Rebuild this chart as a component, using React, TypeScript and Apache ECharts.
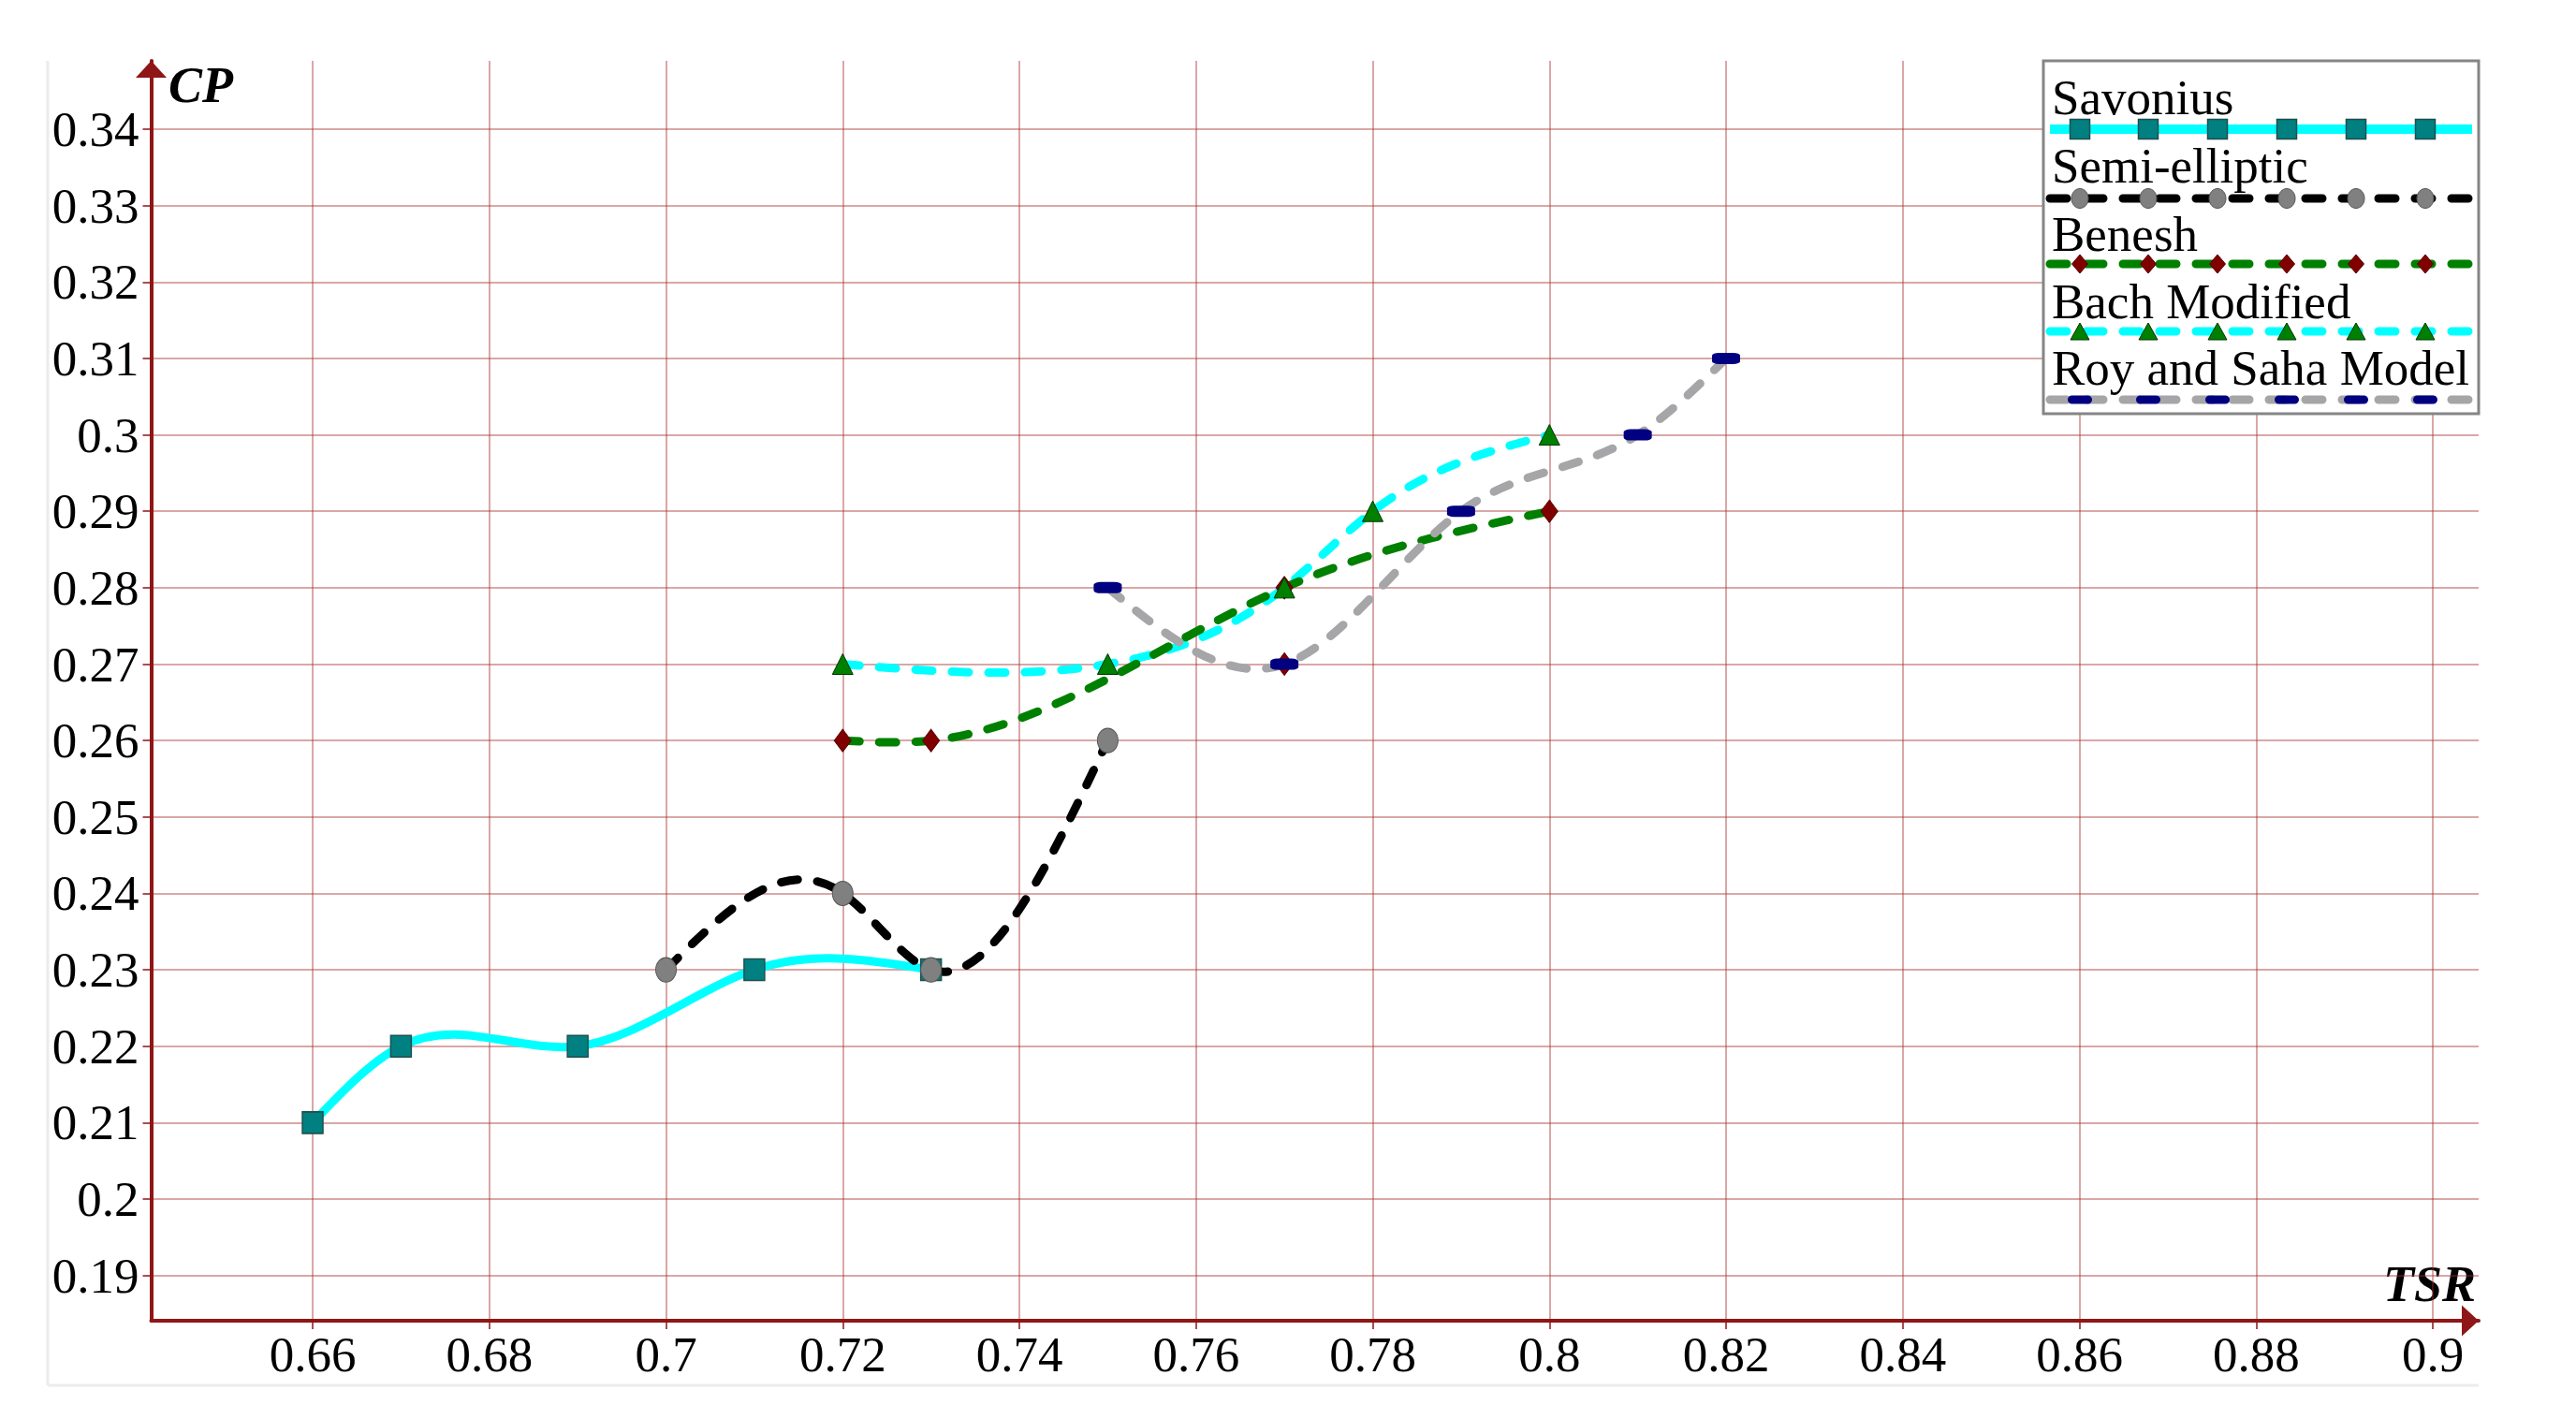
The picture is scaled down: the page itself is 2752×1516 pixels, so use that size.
import React, { useEffect, useRef } from "react";
import * as echarts from "echarts";

// ---- data ----
const xTicks = [0.66, 0.68, 0.7, 0.72, 0.74, 0.76, 0.78, 0.8, 0.82, 0.84, 0.86, 0.88, 0.9];
const yTicks = [0.19, 0.2, 0.21, 0.22, 0.23, 0.24, 0.25, 0.26, 0.27, 0.28, 0.29, 0.3, 0.31, 0.32, 0.33, 0.34];

const savoniusTSR = [0.66, 0.67, 0.69, 0.71, 0.73];
const savoniusCP = [0.21, 0.22, 0.22, 0.23, 0.23];

const semiTSR = [0.7, 0.72, 0.73, 0.75];
const semiCP = [0.23, 0.24, 0.23, 0.26];

const beneshTSR = [0.72, 0.73, 0.77, 0.8];
const beneshCP = [0.26, 0.26, 0.28, 0.29];
// a lone Benesh marker visible beneath the Roy and Saha marker at 0.77
const beneshExtraTSR = [0.77];
const beneshExtraCP = [0.27];

const bachTSR = [0.72, 0.75, 0.77, 0.78, 0.8];
const bachCP = [0.27, 0.27, 0.28, 0.29, 0.3];

const roySahaTSR = [0.75, 0.77, 0.79, 0.81, 0.82];
const roySahaCP = [0.28, 0.27, 0.29, 0.3, 0.31];

const legendNames = ["Savonius", "Semi-elliptic", "Benesh", "Bach Modified", "Roy and Saha Model"];

const X_MIN = 0.64172;
const X_MAX = 0.90519;
const Y_MIN = 0.18408;
const Y_MAX = 0.34894;

const FONT = '"Liberation Serif", "Times New Roman", serif';
const AXIS = "#8f1616";
const GRID = "rgba(165, 45, 45, 0.42)";
const TICK = "rgba(140, 20, 20, 0.75)";
const DASH = [18, 21];

const zip = (a: number[], b: number[]) => a.map((v, i) => [v, b[i]]);

// natural cubic spline through the data points, expressed as cubic Bezier segments in data space
function splineSegments(xs: number[], ys: number[]): number[][][] {
  const n = xs.length;
  const h: number[] = [];
  for (let i = 0; i < n - 1; i++) h.push(xs[i + 1] - xs[i]);
  const M = new Array(n).fill(0);
  if (n > 2) {
    const m = n - 2;
    const a: number[] = [], b: number[] = [], c: number[] = [], d: number[] = [];
    for (let i = 1; i <= m; i++) {
      a.push(h[i - 1]);
      b.push(2 * (h[i - 1] + h[i]));
      c.push(h[i]);
      d.push(6 * ((ys[i + 1] - ys[i]) / h[i] - (ys[i] - ys[i - 1]) / h[i - 1]));
    }
    for (let i = 1; i < m; i++) {
      const w = a[i] / b[i - 1];
      b[i] -= w * c[i - 1];
      d[i] -= w * d[i - 1];
    }
    const sol = new Array(m).fill(0);
    sol[m - 1] = d[m - 1] / b[m - 1];
    for (let i = m - 2; i >= 0; i--) sol[i] = (d[i] - c[i] * sol[i + 1]) / b[i];
    for (let i = 0; i < m; i++) M[i + 1] = sol[i];
  }
  const segs: number[][][] = [];
  for (let i = 0; i < n - 1; i++) {
    const hi = h[i];
    const sl = (ys[i + 1] - ys[i]) / hi;
    const s0 = sl - (hi * (2 * M[i] + M[i + 1])) / 6;
    const s1 = sl + (hi * (M[i] + 2 * M[i + 1])) / 6;
    segs.push([
      [xs[i], ys[i]],
      [xs[i] + hi / 3, ys[i] + (s0 * hi) / 3],
      [xs[i + 1] - hi / 3, ys[i + 1] - (s1 * hi) / 3],
      [xs[i + 1], ys[i + 1]],
    ]);
  }
  return segs;
}

function curveSeries(name: string, xs: number[], ys: number[], style: any): any {
  return {
    name,
    type: "custom",
    silent: true,
    coordinateSystem: "cartesian2d",
    data: zip(xs, ys),
    renderItem: (params: any, api: any) => {
      if (params.dataIndex !== 0) return null;
      const segs = splineSegments(xs, ys);
      let d = "";
      segs.forEach((s, k) => {
        const p = s.map((pt) => api.coord(pt));
        if (k === 0) d += `M${p[0][0]},${p[0][1]}`;
        d += ` C${p[1][0]},${p[1][1]} ${p[2][0]},${p[2][1]} ${p[3][0]},${p[3][1]}`;
      });
      return {
        type: "path",
        shape: { pathData: d },
        style: { fill: "none", ...style },
      };
    },
  };
}

function markerSeries(name: string, xs: number[], ys: number[], symbol: string, size: number[], itemStyle: any): any {
  return {
    name,
    type: "scatter",
    silent: true,
    data: zip(xs, ys),
    symbol,
    symbolSize: size,
    itemStyle: { opacity: 1, ...itemStyle },
  };
}

function buildLegend(): any[] {
  const els: any[] = [];
  const boxX = 2183, boxY = 65, boxW = 465, boxH = 377;
  els.push({
    type: "rect",
    shape: { x: boxX, y: boxY, width: boxW, height: boxH },
    style: { fill: "#fff", stroke: "#858585", lineWidth: 3 },
    z: 100,
  });
  const lineYs = [138, 212, 282, 354, 427];
  const textYs = [104, 177, 250, 322, 393];
  const markerXs = [2222, 2295, 2369, 2443, 2517, 2591];
  const lineStyles: any[] = [
    { stroke: "#00FFFF", lineWidth: 10, lineCap: "butt" },
    { stroke: "#000000", lineWidth: 9, lineDash: DASH, lineCap: "round" },
    { stroke: "#008000", lineWidth: 9, lineDash: DASH, lineCap: "round" },
    { stroke: "#00FFFF", lineWidth: 9, lineDash: DASH, lineCap: "round" },
    { stroke: "#a6a6a9", lineWidth: 9, lineDash: DASH, lineCap: "round" },
  ];
  legendNames.forEach((name, i) => {
    els.push({
      type: "text",
      x: 2192,
      y: textYs[i],
      z: 101,
      style: {
        text: name,
        font: `53px ${FONT}`,
        fill: "#000",
        textAlign: "left",
        textVerticalAlign: "middle",
        align: "left",
        verticalAlign: "middle",
      },
    });
    const ly = lineYs[i];
    els.push({
      type: "line",
      z: 101,
      shape: { x1: 2190, y1: ly, x2: 2641, y2: ly },
      style: lineStyles[i],
    });
    markerXs.forEach((cx) => {
      let m: any;
      if (i === 0) {
        m = { type: "rect", shape: { x: cx - 10.5, y: ly - 10.5, width: 21, height: 21 }, style: { fill: "#008080", stroke: "#1d4d4d", lineWidth: 1.5 } };
      } else if (i === 1) {
        m = { type: "ellipse", shape: { cx, cy: ly, rx: 9, ry: 10.5 }, style: { fill: "#808080", stroke: "#555", lineWidth: 1 } };
      } else if (i === 2) {
        m = { type: "polygon", shape: { points: [[cx, ly - 10], [cx + 8.5, ly], [cx, ly + 10], [cx - 8.5, ly]] }, style: { fill: "#800000", stroke: "#5a0000", lineWidth: 1 } };
      } else if (i === 3) {
        m = { type: "polygon", shape: { points: [[cx, ly - 9], [cx + 10, ly + 9], [cx - 10, ly + 9]] }, style: { fill: "#008000", stroke: "#003300", lineWidth: 1 } };
      } else {
        m = { type: "rect", shape: { x: cx - 13, y: ly - 4.5, width: 26, height: 9, r: 4.5 }, style: { fill: "#000080" } };
      }
      m.z = 102;
      els.push(m);
    });
  });
  return els;
}

export default function App() {
  const ref = useRef<HTMLDivElement>(null);
  useEffect(() => {
    if (!ref.current) return;
    const chart = echarts.init(ref.current, null, { renderer: "svg" });
    const labelStyle = { fontSize: 53, fontFamily: FONT, color: "#000" };
    const beneshMarker = { color: "#800000", borderColor: "#5a0000", borderWidth: 1 };
    const option: any = {
      animation: false,
      backgroundColor: "#fff",
      grid: { left: 161.5, right: 104, top: 65, bottom: 105, containLabel: false, outerBoundsMode: "none" },
      xAxis: {
        type: "value",
        min: X_MIN,
        max: X_MAX,
        axisLine: {
          show: true,
          onZero: false,
          lineStyle: { color: AXIS, width: 4 },
          symbol: ["none", "triangle"],
          symbolSize: [33, 18],
          symbolOffset: [0, -9],
        },
        axisTick: { show: true, customValues: xTicks, length: 9, lineStyle: { color: TICK, width: 2 } },
        axisLabel: { ...labelStyle, customValues: xTicks, margin: 9 },
        splitLine: { show: true, lineStyle: { color: GRID, width: 2 } },
      },
      yAxis: {
        type: "value",
        min: Y_MIN,
        max: Y_MAX,
        axisLine: {
          show: true,
          onZero: false,
          lineStyle: { color: AXIS, width: 4 },
          symbol: ["none", "triangle"],
          symbolSize: [33, 18],
          symbolOffset: [0, -9],
        },
        axisTick: { show: true, customValues: yTicks, length: 9, lineStyle: { color: TICK, width: 2 } },
        axisLabel: { ...labelStyle, customValues: yTicks, margin: 13 },
        splitLine: { show: true, lineStyle: { color: GRID, width: 2 } },
      },
      series: [
        // curves first
        curveSeries(legendNames[0], savoniusTSR, savoniusCP, { stroke: "#00FFFF", lineWidth: 9, lineCap: "round" }),
        curveSeries(legendNames[1], semiTSR, semiCP, { stroke: "#000000", lineWidth: 9, lineDash: DASH, lineCap: "round" }),
        curveSeries(legendNames[3], bachTSR, bachCP, { stroke: "#00FFFF", lineWidth: 9, lineDash: DASH, lineCap: "round" }),
        curveSeries(legendNames[2], beneshTSR, beneshCP, { stroke: "#008000", lineWidth: 9, lineDash: DASH, lineCap: "round" }),
        curveSeries(legendNames[4], roySahaTSR, roySahaCP, { stroke: "#a6a6a9", lineWidth: 9, lineDash: DASH, lineCap: "round" }),
        // markers on top
        markerSeries(legendNames[0], savoniusTSR, savoniusCP, "rect", [22, 23], { color: "#008080", borderColor: "#1f4f4f", borderWidth: 1.5 }),
        markerSeries(legendNames[1], semiTSR, semiCP, "path://M50,0A50,50,0,1,1,50,100A50,50,0,1,1,50,0Z", [22, 26], { color: "#808080", borderColor: "#555", borderWidth: 1 }),
        markerSeries(legendNames[2], beneshTSR, beneshCP, "diamond", [18, 24], beneshMarker),
        markerSeries(legendNames[2], beneshExtraTSR, beneshExtraCP, "diamond", [18, 24], beneshMarker),
        markerSeries(legendNames[3], bachTSR, bachCP, "triangle", [22, 22], { color: "#008000", borderColor: "#003300", borderWidth: 1 }),
        markerSeries(legendNames[4], roySahaTSR, roySahaCP, "roundRect", [30, 12], { color: "#000080" }),
      ],
      graphic: [
        { type: "line", z: -1, shape: { x1: 51, y1: 65, x2: 51, y2: 1480 }, style: { stroke: "#ececec", lineWidth: 3 } },
        { type: "line", z: -1, shape: { x1: 51, y1: 1480, x2: 2648, y2: 1480 }, style: { stroke: "#ececec", lineWidth: 3 } },
        {
          type: "text",
          x: 180,
          y: 91,
          style: {
            text: "CP",
            font: `italic bold 54px ${FONT}`,
            fill: "#000",
            textAlign: "left",
            textVerticalAlign: "middle",
            align: "left",
            verticalAlign: "middle",
          },
        },
        {
          type: "text",
          x: 2645,
          y: 1372,
          style: {
            text: "TSR",
            font: `italic bold 54px ${FONT}`,
            fill: "#000",
            textAlign: "right",
            textVerticalAlign: "middle",
            align: "right",
            verticalAlign: "middle",
          },
        },
        ...buildLegend(),
      ],
    };
    chart.setOption(option);
    return () => chart.dispose();
  }, []);
  return (
    <div
      ref={ref}
      style={{ position: "fixed", left: 0, top: 0, width: 2752, height: 1516 }}
    />
  );
}
